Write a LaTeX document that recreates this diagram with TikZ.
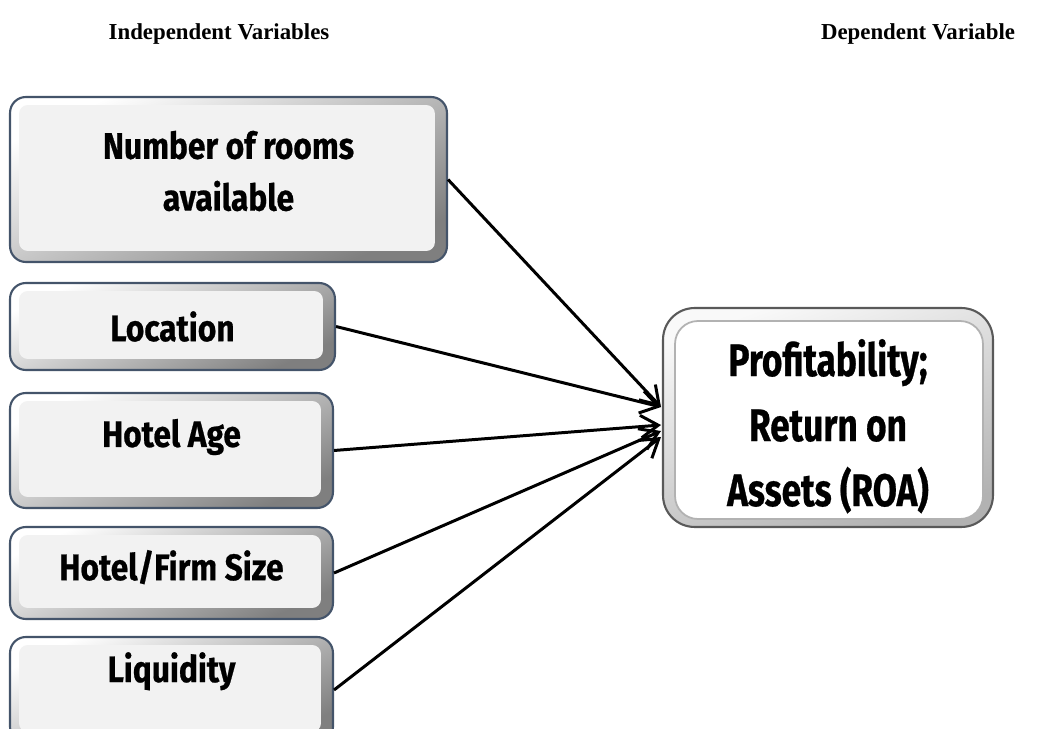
\documentclass[tikz,border=0pt]{standalone}
\usepackage{fontspec}
\usepackage{tikz}
\usetikzlibrary{arrows.meta, positioning, calc}
\setmainfont{Liberation Serif}
\newfontfamily\varfont[FakeStretch=0.86, FakeBold=0.6]{Fira Sans}
\newfontfamily\roafont[FakeStretch=0.77, FakeBold=0.6]{Fira Sans}
\definecolor{boxedge}{HTML}{44546A}
\definecolor{boxface}{HTML}{F2F2F2}
\definecolor{bevel}{HTML}{7F7F7F}
\tikzstyle{varbox} = [
  rectangle, draw=boxedge, line width=1.2pt, rounded corners=9pt,
  top color=white, bottom color=bevel, shading angle=25,
  font=\varfont\bfseries\fontsize{21}{29.5}\selectfont, align=center,
  path picture={
    \fill[boxface, rounded corners=5pt]
      ($(path picture bounding box.north west)+(9,8)$) rectangle
      ($(path picture bounding box.south east)+(-12,-11)$);
  }
]
\tikzstyle{roabox} = [
  rectangle, draw=gray!70!black, line width=1.2pt, rounded corners=18pt,
  top color=gray!5, bottom color=gray!60, shading angle=20,
  font=\roafont\bfseries\fontsize{26}{37}\selectfont, align=center,
  path picture={
    \filldraw[fill=white, draw=gray!60, line width=1pt, rounded corners=13pt]
      ($(path picture bounding box.north west)+(12,13)$) rectangle
      ($(path picture bounding box.south east)+(-10,-8)$);
  }
]
\tikzstyle{heading} = [font=\bfseries\fontsize{13}{15}\selectfont]
\tikzstyle{arrow} = [-{Straight Barb[length=3.5mm, width=4.5mm]}, line width=1.7pt]

\begin{document}
\begin{tikzpicture}[x=0.02cm, y=-0.02cm]
  \useasboundingbox (0,0) rectangle (1039,729);

  \node[heading] (indep) at (219,34) {Independent Variables};
  \node[heading] (dep) at (918,34) {Dependent Variable};

  \node[varbox, minimum width=8.74cm, minimum height=3.3cm, text depth=10pt] (rooms) at (228.5,179.5) {Number of rooms\\available};
  \node[varbox, minimum width=6.5cm, minimum height=1.74cm] (location) at (172.5,326.5) {Location};
  \node[varbox, minimum width=6.46cm, minimum height=2.3cm, text depth=20pt] (age) at (171.5,450.5) {Hotel Age};
  \node[varbox, minimum width=6.46cm, minimum height=1.84cm, text depth=9pt] (size) at (171.5,573) {Hotel/Firm Size};
  \node[varbox, minimum width=6.46cm, minimum height=2.12cm, text depth=26pt] (liquidity) at (171.5,690) {Liquidity};

  \node[roabox, minimum width=6.6cm, minimum height=4.38cm, text height=105pt] (roa) at (828,417.5) {Profitability;\\Return on\\Assets (ROA)};

  \coordinate (tipA) at (661,407);
  \coordinate (tipB) at (661,425);
  \coordinate (tipC) at (661,431);
  \coordinate (tipD) at (661,437);

  \draw[arrow] (rooms.east) -- (tipA);
  \draw[arrow] (location.east) -- (tipA);
  \draw[arrow] (age.east) -- (tipB);
  \draw[arrow] (size.east) -- (tipC);
  \draw[arrow] (liquidity.east) -- (tipD);

\end{tikzpicture}
\end{document}
